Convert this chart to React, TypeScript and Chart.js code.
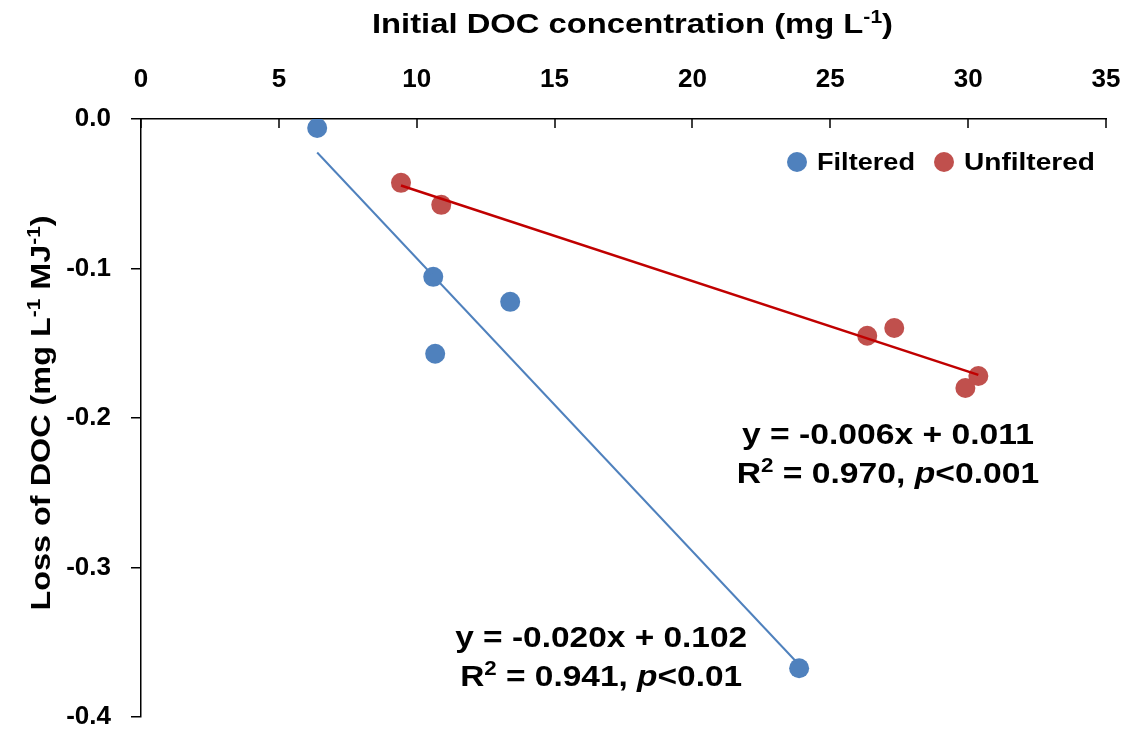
import React, { useEffect, useRef } from "react";
import { Chart, registerables } from "chart.js";

Chart.register(...registerables);

// ---- data ----
const filteredX = [6.39, 10.6, 10.67, 13.39, 23.87];
const filteredY = [-0.006, -0.1056, -0.157, -0.1223, -0.3674];
const unfilteredX = [9.43, 10.89, 26.34, 27.32, 29.9, 30.37];
const unfilteredY = [-0.0427, -0.0574, -0.145, -0.1398, -0.1799, -0.1719];
const seriesNames = ["Filtered", "Unfiltered"];
const seriesColors = ["#4F81BD", "#C0504D"];
const trendColors = ["#4F81BD", "#C00000"];
const xTicks = [0, 5, 10, 15, 20, 25, 30, 35];
const yTicks = [-0.4, -0.3, -0.2, -0.1, 0.0];
const eqLine1 = ["y = -0.020x + 0.102", "y = -0.006x + 0.011"];
const eqR2 = ["0.941", "0.970"];
const eqP = ["<0.01", "<0.001"];
// annotation anchor (data coords: centre x, baseline y of first line)
const eqAnchorX = [16.69, 27.09];
const eqAnchorY = [-0.3533, -0.2174];

const FONT = "'Liberation Sans'";

type Part = { t: string; sup?: boolean; it?: boolean };

function fit(xs: number[], ys: number[]) {
  const n = xs.length;
  const mx = xs.reduce((a, b) => a + b, 0) / n;
  const my = ys.reduce((a, b) => a + b, 0) / n;
  let sxy = 0, sxx = 0;
  for (let i = 0; i < n; i++) {
    sxy += (xs[i] - mx) * (ys[i] - my);
    sxx += (xs[i] - mx) * (xs[i] - mx);
  }
  const m = sxy / sxx;
  return { m, b: my - m * mx };
}

function trend(xs: number[], ys: number[]) {
  const { m, b } = fit(xs, ys);
  const lo = Math.min(...xs), hi = Math.max(...xs);
  return [{ x: lo, y: m * lo + b }, { x: hi, y: m * hi + b }];
}

function fontFor(p: Part, size: number) {
  const s = p.sup ? Math.round(size * 0.65) : size;
  return `${p.it ? "italic " : ""}bold ${s}px ${FONT}`;
}

function measure(ctx: CanvasRenderingContext2D, parts: Part[], size: number) {
  return parts.map((p) => {
    ctx.font = fontFor(p, size);
    return ctx.measureText(p.t).width;
  });
}

// draws parts centred on (x, y) baseline, horizontally scaled by sx
function drawParts(ctx: CanvasRenderingContext2D, parts: Part[], size: number, x: number, y: number, sx: number, align: "center" | "left" = "center") {
  const widths = measure(ctx, parts, size);
  const total = widths.reduce((a, b) => a + b, 0);
  ctx.save();
  ctx.translate(x, y);
  ctx.scale(sx, 1);
  let cx = align === "center" ? -total / 2 : 0;
  ctx.textAlign = "left";
  ctx.textBaseline = "alphabetic";
  parts.forEach((p, i) => {
    ctx.font = fontFor(p, size);
    ctx.fillText(p.t, cx, p.sup ? -size * 0.36 : 0);
    cx += widths[i];
  });
  ctx.restore();
}

function fitScale(ctx: CanvasRenderingContext2D, parts: Part[], size: number, target: number) {
  const total = measure(ctx, parts, size).reduce((a, b) => a + b, 0);
  return target / total;
}

const decorPlugin = {
  id: "decor",
  afterDraw(chart: any) {
    const ctx: CanvasRenderingContext2D = chart.ctx;
    const xs = chart.scales.x;
    const ys = chart.scales.y;
    const area = chart.chartArea;
    ctx.save();
    // inward x ticks
    ctx.strokeStyle = "#000";
    ctx.lineWidth = 1.5;
    xTicks.forEach((v) => {
      const px = Math.round(xs.getPixelForValue(v));
      ctx.beginPath();
      ctx.moveTo(px, area.top);
      ctx.lineTo(px, area.top + 9);
      ctx.stroke();
    });
    ctx.fillStyle = "#000";
    // x title
    const xt: Part[] = [{ t: "Initial DOC concentration (mg L" }, { t: "-1", sup: true }, { t: ")" }];
    drawParts(ctx, xt, 28, 632.5, 33, fitScale(ctx, xt, 28, 521));
    // y title
    const yt: Part[] = [{ t: "Loss of DOC (mg L" }, { t: "-1", sup: true }, { t: " MJ" }, { t: "-1", sup: true }, { t: ")" }];
    ctx.save();
    ctx.translate(50, 413);
    ctx.rotate(-Math.PI / 2);
    drawParts(ctx, yt, 28, 0, 0, fitScale(ctx, yt, 28, 395));
    ctx.restore();
    // legend
    const legX = [797, 944];
    const legW = [98, 131];
    seriesNames.forEach((n, i) => {
      ctx.fillStyle = seriesColors[i];
      ctx.beginPath();
      ctx.arc(legX[i], 162, 10, 0, Math.PI * 2);
      ctx.fill();
      ctx.fillStyle = "#000";
      const lp: Part[] = [{ t: n }];
      drawParts(ctx, lp, 24, legX[i] + 20, 170, fitScale(ctx, lp, 24, legW[i]), "left");
    });
    // equations
    eqLine1.forEach((l1, i) => {
      const cx = xs.getPixelForValue(eqAnchorX[i]);
      const by = ys.getPixelForValue(eqAnchorY[i]);
      const p1: Part[] = [{ t: l1 }];
      const sx = fitScale(ctx, p1, 30, 292);
      drawParts(ctx, p1, 30, cx, by, sx);
      const p2: Part[] = [{ t: "R" }, { t: "2", sup: true }, { t: " = " + eqR2[i] + ", " }, { t: "p", it: true }, { t: eqP[i] }];
      drawParts(ctx, p2, 30, cx, by + 39, sx);
    });
    ctx.restore();
  },
};

export default function App() {
  const ref = useRef<HTMLCanvasElement>(null);
  useEffect(() => {
    const toPts = (xs: number[], ys: number[]) => xs.map((x, i) => ({ x, y: ys[i] }));
    const chart = new Chart(ref.current!, {
      type: "scatter",
      data: {
        datasets: [
          {
            label: "Filtered trend",
            type: "line",
            data: trend(filteredX, filteredY),
            borderColor: trendColors[0],
            borderWidth: 2,
            pointRadius: 0,
            order: 0,
          },
          {
            label: "Unfiltered trend",
            type: "line",
            data: trend(unfilteredX, unfilteredY),
            borderColor: trendColors[1],
            borderWidth: 2.5,
            pointRadius: 0,
            order: 0,
          },
          {
            label: seriesNames[0],
            data: toPts(filteredX, filteredY),
            backgroundColor: seriesColors[0],
            borderWidth: 0,
            pointRadius: 10,
            order: 1,
          },
          {
            label: seriesNames[1],
            data: toPts(unfilteredX, unfilteredY),
            backgroundColor: seriesColors[1],
            borderWidth: 0,
            pointRadius: 10,
            order: 1,
          },
        ] as any,
      },
      options: {
        animation: false,
        responsive: false,
        layout: { padding: { left: 0, top: 0, right: 26, bottom: 16 } },
        plugins: { legend: { display: false }, tooltip: { enabled: false } },
        scales: {
          x: {
            type: "linear",
            position: "top",
            min: 0,
            max: 35,
            afterBuildTicks: (s: any) => { s.ticks = xTicks.map((v) => ({ value: v })); },
            afterFit: (s: any) => { s.height = 119; s.paddingLeft = 0; s.paddingRight = 0; },
            grid: { display: false },
            border: { display: true, color: "#000", width: 1.5 },
            ticks: { font: { family: FONT, size: 26, weight: "bold" }, color: "#000", padding: 16, maxRotation: 0 },
          },
          y: {
            type: "linear",
            min: -0.4,
            max: 0,
            afterBuildTicks: (s: any) => { s.ticks = yTicks.map((v) => ({ value: v })); },
            afterFit: (s: any) => { s.width = 141; s.paddingTop = 0; s.paddingBottom = 0; },
            grid: { display: true, drawOnChartArea: false, drawTicks: true, tickLength: 10, color: "#000", lineWidth: 1.5 },
            border: { display: true, color: "#000", width: 1.5 },
            ticks: { font: { family: FONT, size: 26, weight: "bold" }, color: "#000", padding: 20, callback: (v: any) => Number(v).toFixed(1) },
          },
        },
      } as any,
      plugins: [decorPlugin],
    });
    return () => chart.destroy();
  }, []);
  return (
    <canvas ref={ref} width={1132} height={733} style={{ position: "absolute", left: 0, top: 0, background: "#fff" }} />
  );
}
